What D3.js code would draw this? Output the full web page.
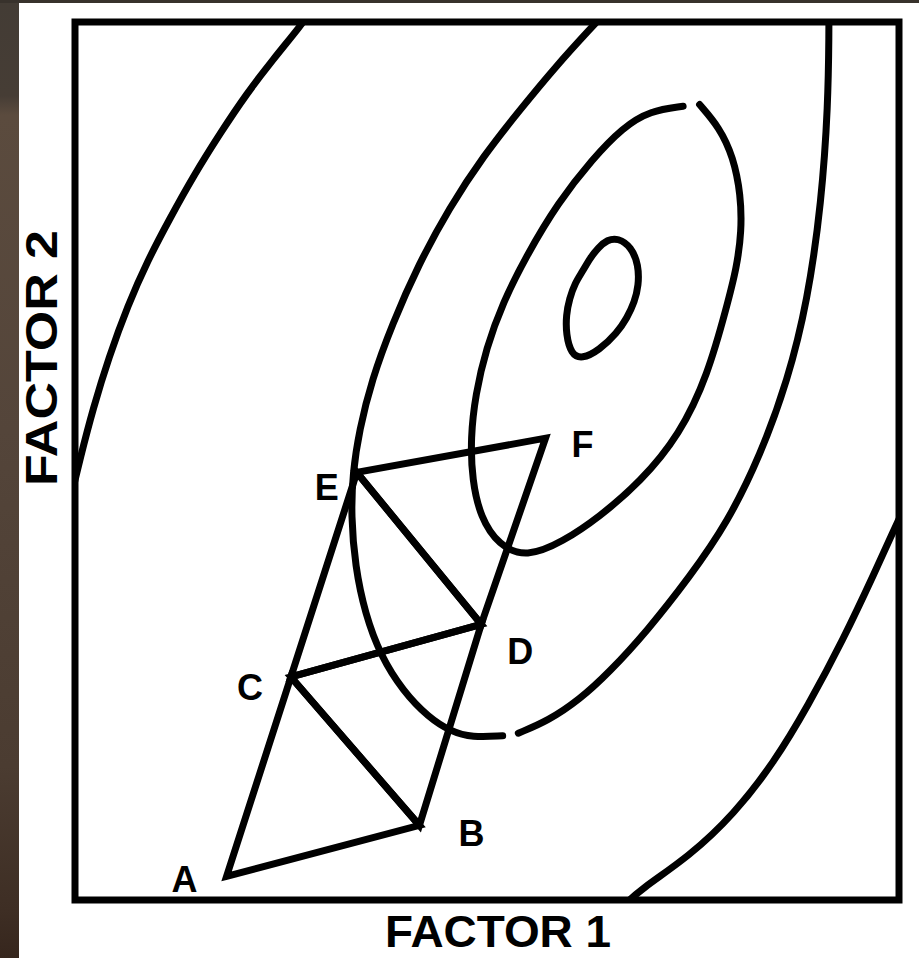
<!DOCTYPE html>
<html>
<head>
<meta charset="utf-8">
<script src="https://cdn.jsdelivr.net/npm/d3@7"></script>
<style>
  body { margin: 0; background: #fff; }
  svg { display: block; }
</style>
</head>
<body>
<svg id="chart" width="919" height="958"></svg>
<script>
// Simplex vertices, in factor units
const vertexNames   = ["A", "B", "C", "D", "E", "F"];
const factor1Values = [18.4, 41.8, 26.2, 49.3, 34.2, 57.1];
const factor2Values = [2.7, 8.5, 25.4, 31.4, 48.7, 52.6];

// Successive simplexes, each a triangle of vertex names
const simplexes = [["A", "B", "C"], ["B", "C", "D"], ["C", "D", "E"], ["D", "E", "F"]];

// Response contours, traced as [factor 1, factor 2] points
const contourPeak = [
  [65.9, 75.4], [67.5, 74.4], [68.4, 72.3], [68.4, 70.0], [67.9, 68.1], [67.0, 66.3],
  [65.8, 64.6], [63.6, 62.6], [61.5, 61.6], [60.2, 62.2], [59.6, 64.4], [59.6, 66.6],
  [60.0, 68.5], [60.7, 70.3], [61.6, 71.6], [62.5, 73.1], [63.5, 74.3], [64.6, 75.2]
];
const contourSecond = [
  [75.8, 90.6], [78.2, 88.0], [79.9, 84.6], [80.8, 80.3], [80.9, 76.2], [80.3, 72.0],
  [79.1, 67.6], [76.8, 59.8], [73.4, 53.0], [68.6, 47.6], [63.6, 43.6], [59.2, 40.8],
  [54.8, 39.0], [51.4, 40.4], [49.2, 43.6], [48.2, 47.8], [48.0, 52.6], [48.6, 57.6],
  [49.9, 62.8], [51.9, 68.0], [54.8, 73.4], [58.6, 79.4], [62.8, 84.4], [66.5, 88.0],
  [69.8, 89.9], [73.8, 90.4]
];
const contourThirdLeft = [
  [64.5, 101.2], [62.6, 99.3], [58.4, 95.0], [54.0, 90.0], [49.6, 84.8], [45.4, 78.8],
  [41.7, 72.4], [38.5, 65.6], [36.0, 59.2], [34.5, 53.5], [33.7, 48.6], [33.5, 43.8],
  [34.0, 38.0], [35.2, 32.6], [37.1, 27.8], [39.8, 23.8], [42.9, 20.8], [45.6, 19.2],
  [48.2, 18.5], [51.9, 18.7]
];
const contourThirdRight = [
  [53.8, 19.0], [57.4, 20.4], [61.2, 22.8], [64.8, 25.9], [69.4, 30.6], [74.6, 36.8],
  [79.2, 43.0], [83.2, 50.7], [86.5, 59.2], [88.9, 68.2], [90.6, 79.5], [91.4, 90.6],
  [91.5, 99.1], [91.5, 101.5]
];
const contourOuterUpper = [
  [28.4, 101.0], [27.5, 99.7], [24.0, 95.7], [20.8, 91.8], [17.6, 87.3], [14.4, 82.5],
  [11.5, 77.6], [8.8, 72.8], [6.4, 67.7], [4.1, 61.8], [2.2, 56.0], [0.6, 50.2], [-0.6, 45.5]
];
const contourOuterLower = [
  [100.9, 45.2], [99.2, 41.8], [97.2, 37.6], [93.2, 29.6], [89.0, 22.2], [84.8, 15.6],
  [80.0, 9.8], [74.6, 5.0], [68.6, 1.2], [66.4, -0.8]
];

const axisTitles = ["FACTOR 1", "FACTOR 2"];

// ---- layout ----
const W = 919, H = 958;
const plot = { left: 75, right: 899, top: 22, bottom: 900 };
const font = "'Liberation Sans', Arial, sans-serif";

const svg = d3.select("#chart");

// dark frame strips along the left and top edges
const defs = svg.append("defs");
const grad = defs.append("linearGradient")
  .attr("id", "edgeShade").attr("x1", 0).attr("y1", 0).attr("x2", 0).attr("y2", 1);
[["0%", "#433c35"], ["10%", "#463d35"], ["12%", "#5b4b3e"], ["45%", "#54453a"],
 ["80%", "#4b3c31"], ["95%", "#3e2e24"], ["100%", "#36261d"]]
  .forEach(([o, c]) => grad.append("stop").attr("offset", o).attr("stop-color", c));

svg.append("rect").attr("width", W).attr("height", H).attr("fill", "#fff");
svg.append("rect").attr("x", 0).attr("y", 0).attr("width", 19).attr("height", H)
  .attr("fill", "url(#edgeShade)");
svg.append("rect").attr("x", 0).attr("y", 0).attr("width", W).attr("height", 3)
  .attr("fill", "#38322c");

const x = d3.scaleLinear().domain([0, 100]).range([plot.left, plot.right]);
const y = d3.scaleLinear().domain([0, 100]).range([plot.bottom, plot.top]);

defs.append("clipPath").attr("id", "plotClip")
  .append("rect")
  .attr("x", plot.left).attr("y", plot.top)
  .attr("width", plot.right - plot.left).attr("height", plot.bottom - plot.top);

const g = svg.append("g").attr("clip-path", "url(#plotClip)");

const openLine = d3.line().x(d => x(d[0])).y(d => y(d[1])).curve(d3.curveBasis);
const closedLine = d3.line().x(d => x(d[0])).y(d => y(d[1])).curve(d3.curveBasisClosed);

const contourStyle = sel => sel.attr("fill", "none").attr("stroke", "#000")
  .attr("stroke-width", 7).attr("stroke-linecap", "round");

[contourSecond, contourThirdLeft, contourThirdRight, contourOuterUpper, contourOuterLower]
  .forEach(pts => g.append("path").attr("d", openLine(pts)).call(contourStyle));
g.append("path").attr("d", closedLine(contourPeak)).call(contourStyle);

// simplex triangles
const vertex = new Map(vertexNames.map((n, i) => [n, [factor1Values[i], factor2Values[i]]]));
g.selectAll("path.simplex")
  .data(simplexes)
  .join("path")
  .attr("class", "simplex")
  .attr("d", tri => "M" + tri.map(n => [x(vertex.get(n)[0]), y(vertex.get(n)[1])].join(",")).join("L") + "Z")
  .attr("fill", "none")
  .attr("stroke", "#000")
  .attr("stroke-width", 7)
  .attr("stroke-linejoin", "miter")
  .attr("stroke-miterlimit", 3);

// vertex labels
const labelOffset = { A: [-42, 3], B: [52, 8], C: [-41, 10], D: [39, 27], E: [-30, 15], F: [37, 6] };
svg.selectAll("text.vertex")
  .data(vertexNames)
  .join("text")
  .attr("class", "vertex")
  .attr("x", n => x(vertex.get(n)[0]) + labelOffset[n][0])
  .attr("y", n => y(vertex.get(n)[1]) + labelOffset[n][1])
  .attr("dy", "0.36em")
  .attr("text-anchor", "middle")
  .attr("font-family", font)
  .attr("font-weight", "bold")
  .attr("font-size", 36)
  .attr("fill", "#000")
  .text(n => n);

// plot frame
svg.append("rect")
  .attr("x", plot.left).attr("y", plot.top)
  .attr("width", plot.right - plot.left).attr("height", plot.bottom - plot.top)
  .attr("fill", "none").attr("stroke", "#000").attr("stroke-width", 7);

// axis titles
svg.append("text")
  .attr("x", (plot.left + plot.right) / 2 + 11)
  .attr("y", 947)
  .attr("text-anchor", "middle")
  .attr("font-family", font)
  .attr("font-weight", "bold")
  .attr("font-size", 44)
  .attr("textLength", 226)
  .attr("lengthAdjust", "spacingAndGlyphs")
  .attr("fill", "#000")
  .text(axisTitles[0]);

svg.append("text")
  .attr("transform", "translate(57,358) rotate(-90)")
  .attr("text-anchor", "middle")
  .attr("font-family", font)
  .attr("font-weight", "bold")
  .attr("font-size", 44)
  .attr("textLength", 256)
  .attr("lengthAdjust", "spacingAndGlyphs")
  .attr("fill", "#000")
  .text(axisTitles[1]);
</script>
</body>
</html>
